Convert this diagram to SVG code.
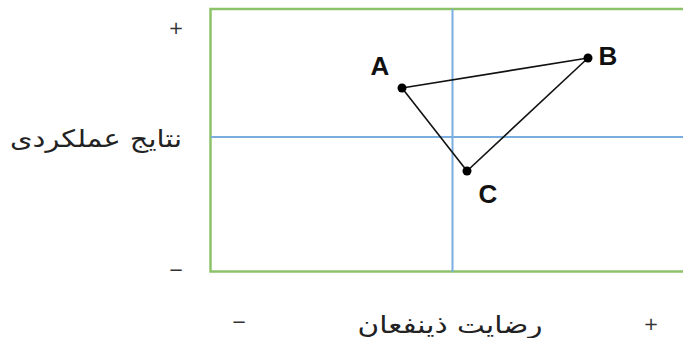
<svg xmlns="http://www.w3.org/2000/svg" width="683" height="338" viewBox="0 0 683 338">
<style>
.lbl{font-family:"Liberation Sans",Arial,sans-serif;font-weight:bold;font-size:26px;fill:#111}
.fa{font-family:"DejaVu Sans","Noto Sans",sans-serif;font-size:24px;fill:#222}
.sg{font-family:"DejaVu Sans","Liberation Sans",sans-serif;font-size:18px;fill:#333}
.ax{stroke:#7aaee0;stroke-width:2}
.ed{stroke:#111;stroke-width:1.6}
</style>
<g id="frame"><path d="M685 9 H210.5 V271.5 H685" fill="none" stroke="#8cc36a" stroke-width="2.5"/></g>
<g id="axes"><line class="ax" x1="452.5" y1="9" x2="452.5" y2="272"/><line class="ax" x1="211" y1="137" x2="683" y2="137"/></g>
<g id="connectors"><line class="ed" x1="402" y1="88" x2="588" y2="58"/><line class="ed" x1="402" y1="88" x2="467" y2="171"/><line class="ed" x1="588" y1="58" x2="467" y2="171"/></g>
<g id="A"><circle cx="402" cy="88" r="4.5" fill="#000"/><text class="lbl" x="380" y="75" text-anchor="middle">A</text></g>
<g id="B"><circle cx="588" cy="58" r="4.5" fill="#000"/><text class="lbl" x="608" y="65" text-anchor="middle">B</text></g>
<g id="C"><circle cx="467" cy="171" r="4.5" fill="#000"/><text class="lbl" x="488" y="203" text-anchor="middle">C</text></g>
<g id="ylabel"><text class="fa" x="96" y="147" text-anchor="middle" textLength="172" lengthAdjust="spacingAndGlyphs">نتایج عملکردی</text><text class="sg" x="176" y="34" text-anchor="middle">+</text><text class="sg" x="176" y="276" text-anchor="middle">−</text></g>
<g id="xlabel"><text class="fa" x="450" y="333" text-anchor="middle" textLength="185" lengthAdjust="spacingAndGlyphs">رضایت ذینفعان</text><text class="sg" x="239" y="328" text-anchor="middle">−</text><text class="sg" x="651" y="330" text-anchor="middle">+</text></g>
</svg>
